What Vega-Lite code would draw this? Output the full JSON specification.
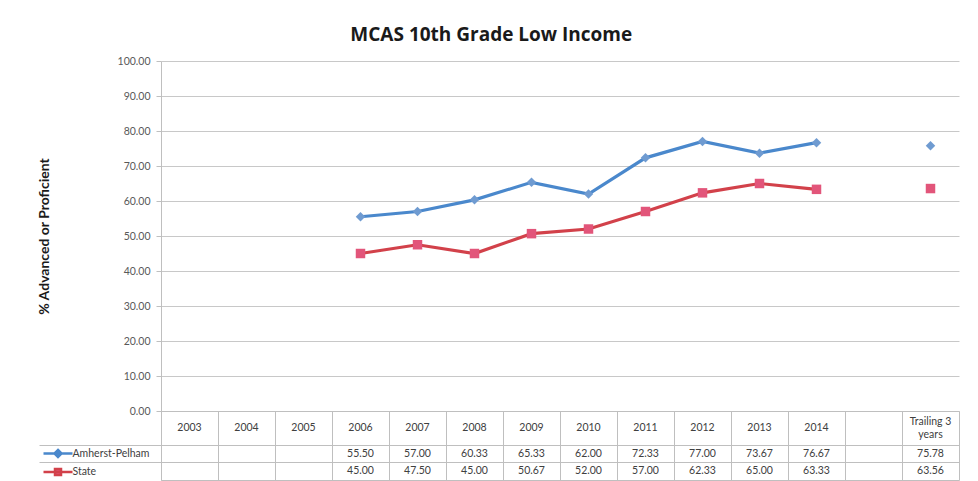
{
  "$schema": "https://vega.github.io/schema/vega-lite/v6.json",
  "background": "white",
  "padding": {"left": 37, "top": 26, "right": 18, "bottom": 0},
  "title": {"text": "MCAS 10th Grade Low Income", "font": "Open Sans", "fontSize": 19, "fontWeight": "bold", "color": "#1a1a1a", "anchor": "middle", "offset": 11, "dx": -7},
  "config": {"font": "Lato", "concat": {"spacing": 0}},
  "spacing": 0,
  "bounds": "flush",
  "datasets": {
    "scores": [
      {"year": "2006", "series": "Amherst-Pelham", "value": 55.50},
      {"year": "2007", "series": "Amherst-Pelham", "value": 57.00},
      {"year": "2008", "series": "Amherst-Pelham", "value": 60.33},
      {"year": "2009", "series": "Amherst-Pelham", "value": 65.33},
      {"year": "2010", "series": "Amherst-Pelham", "value": 62.00},
      {"year": "2011", "series": "Amherst-Pelham", "value": 72.33},
      {"year": "2012", "series": "Amherst-Pelham", "value": 77.00},
      {"year": "2013", "series": "Amherst-Pelham", "value": 73.67},
      {"year": "2014", "series": "Amherst-Pelham", "value": 76.67},
      {"year": "Trailing 3\nyears", "series": "Amherst-Pelham", "value": 75.78},
      {"year": "2006", "series": "State", "value": 45.00},
      {"year": "2007", "series": "State", "value": 47.50},
      {"year": "2008", "series": "State", "value": 45.00},
      {"year": "2009", "series": "State", "value": 50.67},
      {"year": "2010", "series": "State", "value": 52.00},
      {"year": "2011", "series": "State", "value": 57.00},
      {"year": "2012", "series": "State", "value": 62.33},
      {"year": "2013", "series": "State", "value": 65.00},
      {"year": "2014", "series": "State", "value": 63.33},
      {"year": "Trailing 3\nyears", "series": "State", "value": 63.56}
    ],
    "cols": [
      {"col": "2003"}, {"col": "2004"}, {"col": "2005"}, {"col": "2006"}, {"col": "2007"},
      {"col": "2008"}, {"col": "2009"}, {"col": "2010"}, {"col": "2011"}, {"col": "2012"},
      {"col": "2013"}, {"col": "2014"}, {"col": " "}, {"col": "Trailing 3\nyears"}
    ]
  },
  "vconcat": [
    {
      "width": 798,
      "height": 350,
      "view": {"stroke": null},
      "data": {"name": "scores"},
      "encoding": {
        "x": {"field": "year", "type": "nominal", "sort": null,
          "scale": {"type": "band", "paddingInner": 0, "paddingOuter": 0,
            "domain": ["2003", "2004", "2005", "2006", "2007", "2008", "2009", "2010", "2011", "2012", "2013", "2014", " ", "Trailing 3\nyears"]},
          "axis": null},
        "y": {"field": "value", "type": "quantitative",
          "scale": {"domain": [0, 100]},
          "axis": {"values": [0, 10, 20, 30, 40, 50, 60, 70, 80, 90, 100], "format": ".2f",
            "title": "% Advanced or Proficient", "titleFontSize": 14, "titleFontWeight": "bold", "titleColor": "#1a1a1a", "titlePadding": 66,
            "labelFontSize": 10.5, "labelColor": "#595959", "labelPadding": 6,
            "tickSize": 5, "tickColor": "#bfbfbf", "domainColor": "#bfbfbf", "gridColor": "#c8c8c8", "grid": true}}
      },
      "layer": [
        {
          "transform": [{"filter": "indexof(datum.year, 'Trailing') < 0"}],
          "mark": {"type": "line", "strokeWidth": 3.2},
          "encoding": {
            "color": {"field": "series", "type": "nominal",
              "scale": {"domain": ["Amherst-Pelham", "State"], "range": ["#4a88cc", "#d2414a"]}, "legend": null}
          }
        },
        {
          "mark": {"type": "point", "filled": true, "opacity": 1, "size": 90},
          "encoding": {
            "fill": {"field": "series", "type": "nominal",
              "scale": {"domain": ["Amherst-Pelham", "State"], "range": ["#6f9bd1", "#e2557a"]}, "legend": null},
            "shape": {"field": "series", "type": "nominal",
              "scale": {"domain": ["Amherst-Pelham", "State"], "range": ["diamond", "square"]}, "legend": null}
          }
        }
      ]
    },
    {
      "width": 798,
      "height": 69,
      "view": {"stroke": "#bfbfbf"},
      "layer": [
        {
          "data": {"name": "cols"},
          "transform": [{"filter": "indexof(datum.col, 'Trailing') < 0"}],
          "mark": {"type": "text", "fontSize": 10.5, "color": "#404040", "baseline": "middle"},
          "encoding": {
            "x": {"field": "col", "type": "nominal", "sort": null,
              "scale": {"type": "band", "paddingInner": 0, "paddingOuter": 0,
                "domain": ["2003", "2004", "2005", "2006", "2007", "2008", "2009", "2010", "2011", "2012", "2013", "2014", " ", "Trailing 3\nyears"]},
              "axis": {"labels": false, "ticks": false, "domain": false, "grid": true, "bandPosition": 0, "gridColor": "#bfbfbf", "title": null}},
            "y": {"datum": "hdr2", "type": "nominal", "bandPosition": 0,
              "scale": {"type": "band", "paddingInner": 0, "paddingOuter": 0, "domain": ["hdr1", "hdr2", "Amherst-Pelham", "State"]}},
            "text": {"field": "col"}
          }
        },
        {
          "data": {"name": "cols"},
          "transform": [{"filter": "indexof(datum.col, 'Trailing') >= 0"}],
          "mark": {"type": "text", "lineBreak": "\n", "lineHeight": 13, "fontSize": 10.5, "color": "#404040", "baseline": "middle", "dy": -6.5},
          "encoding": {
            "x": {"field": "col", "type": "nominal"},
            "y": {"datum": "hdr2", "type": "nominal", "bandPosition": 0},
            "text": {"field": "col"}
          }
        },
        {
          "data": {"name": "scores"},
          "mark": {"type": "text", "fontSize": 10.5, "color": "#404040", "baseline": "middle"},
          "encoding": {
            "x": {"field": "year", "type": "nominal"},
            "y": {"field": "series", "type": "nominal",
              "axis": {"values": ["Amherst-Pelham", "State"], "bandPosition": 0, "labels": false, "grid": true, "gridColor": "#bfbfbf",
                "ticks": true, "tickSize": 122, "tickColor": "#bfbfbf", "domain": false, "title": null}},
            "text": {"field": "value", "type": "quantitative", "format": ".2f"}
          }
        },
        {
          "data": {"name": "scores"},
          "transform": [{"filter": "indexof(datum.year, 'Trailing') < 0"}],
          "mark": {"type": "point", "opacity": 0, "strokeWidth": 2.5},
          "encoding": {
            "x": {"field": "year", "type": "nominal"},
            "y": {"field": "series", "type": "nominal"},
            "shape": {"field": "series", "type": "nominal",
              "scale": {"domain": ["Amherst-Pelham", "State"], "range": ["M-2.9,0H2.9M0,-0.7L0.7,0L0,0.7L-0.7,0Z", "M-2.9,0H2.9M-0.6,-0.6H0.6V0.6H-0.6Z"]},
              "legend": {"orient": "none", "legendX": -109.5, "legendY": 36, "title": null, "padding": 0,
                "labelFontSize": 10.5, "labelColor": "#404040", "labelOffset": 8, "symbolSize": 100,
                "symbolStrokeWidth": 2.5, "symbolOpacity": 1, "rowPadding": 1.5}},
            "stroke": {"field": "series", "type": "nominal",
              "scale": {"domain": ["Amherst-Pelham", "State"], "range": ["#4a88cc", "#d2414a"]}},
            "fill": {"field": "series", "type": "nominal",
              "scale": {"domain": ["Amherst-Pelham", "State"], "range": ["#6f9bd1", "#e2557a"]}}
          }
        }
      ]
    }
  ],
  "resolve": {
    "scale": {"color": "independent", "fill": "independent", "shape": "independent", "stroke": "independent"},
    "legend": {"color": "independent", "fill": "independent", "shape": "independent", "stroke": "independent"}
  }
}
